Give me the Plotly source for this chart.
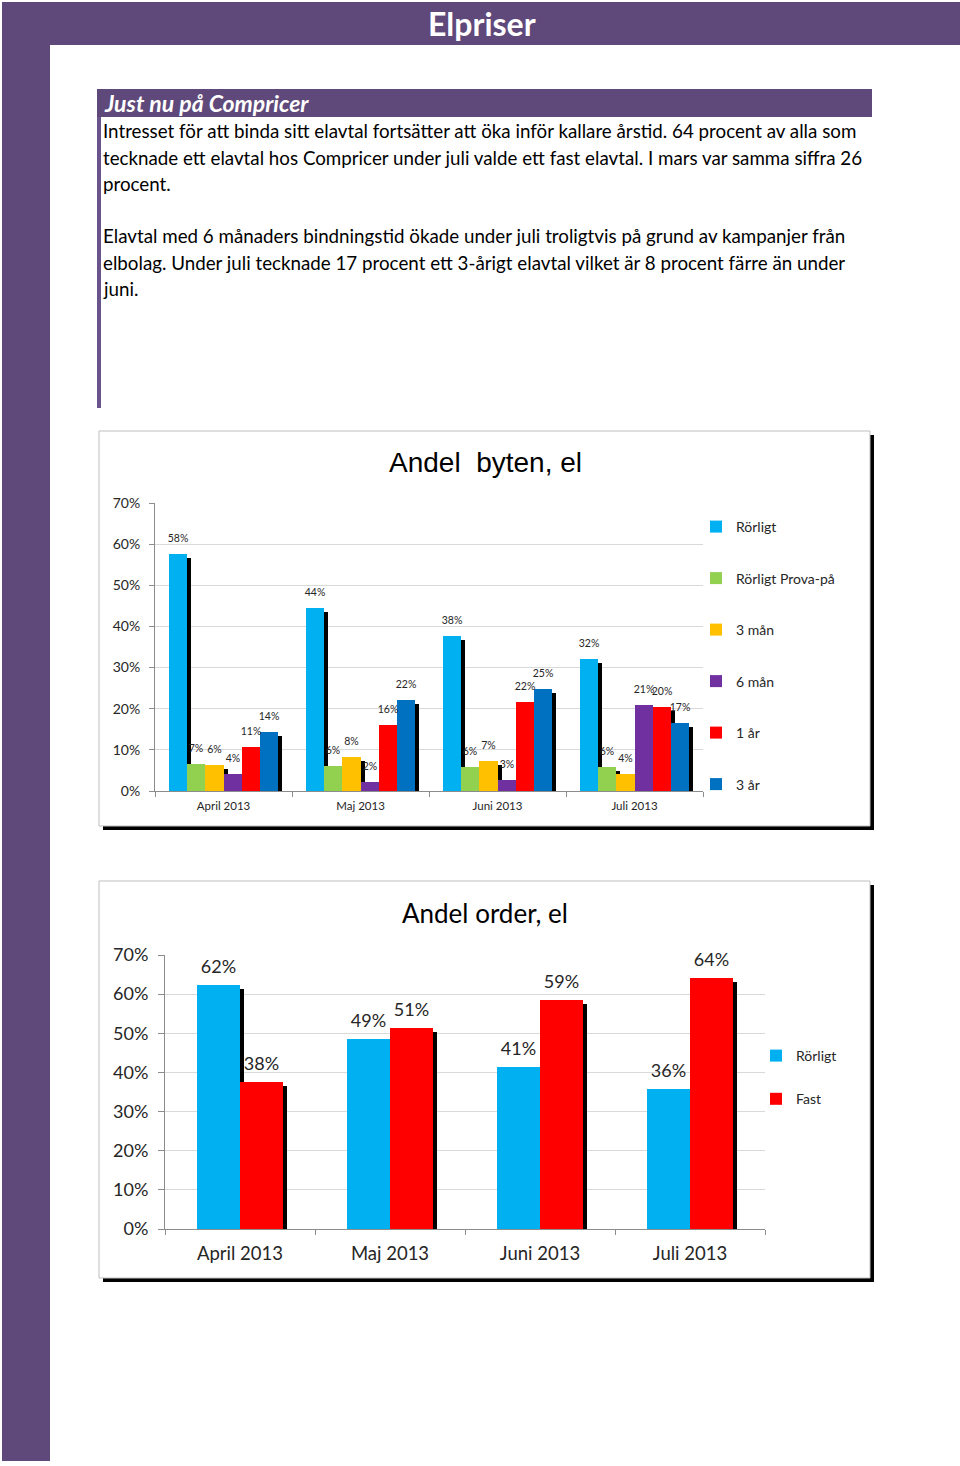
import plotly.graph_objects as go

W, H = 960, 1466


def px(x):
    return x / W


def py(y):
    return 1 - y / H


# ---------------- data ----------------
months = ["April 2013", "Maj 2013", "Juni 2013", "Juli 2013"]

byten_names = ["Rörligt", "Rörligt Prova-på", "3 mån", "6 mån", "1 år", "3 år"]
byten_rorligt = [57.7, 44.4, 37.6, 32.0]
byten_prova = [6.6, 6.1, 5.8, 5.9]
byten_3man = [6.2, 8.3, 7.4, 4.1]
byten_6man = [4.2, 2.2, 2.7, 21.0]
byten_1ar = [10.7, 16.1, 21.6, 20.4]
byten_3ar = [14.3, 22.2, 24.8, 16.6]
byten_values = [byten_rorligt, byten_prova, byten_3man, byten_6man, byten_1ar, byten_3ar]
byten_colors = ["#00B0F0", "#92D050", "#FFC000", "#7030A0", "#FF0000", "#0070C0"]

order_names = ["Rörligt", "Fast"]
order_rorligt = [62.4, 48.6, 41.4, 35.8]
order_fast = [37.6, 51.4, 58.6, 64.2]
order_values = [order_rorligt, order_fast]
order_colors = ["#00B0F0", "#FF0000"]

y_ticks = [0, 10, 20, 30, 40, 50, 60, 70]
y_ticktext = [f"{v}%" for v in y_ticks]

body_lines = [
    "Intresset för att binda sitt elavtal fortsätter att öka inför kallare årstid. 64 procent av alla som",
    "tecknade ett elavtal hos Compricer under juli valde ett fast elavtal. I mars var samma siffra 26",
    "procent.",
    "",
    "Elavtal med 6 månaders bindningstid ökade under juli troligtvis på grund av kampanjer från",
    "elbolag. Under juli tecknade 17 procent ett 3-årigt elavtal vilket är 8 procent färre än under",
    "juni.",
]

PURPLE = "#5F497A"
CAL = "Lato, 'Open Sans', sans-serif"
ARIAL = "'Liberation Sans', Arial, sans-serif"
TXT = "#262626"

fig = go.Figure()


def add_group(names, values, colors, width, start, ax_shadow, ax_main, ax_text,
              legend, lg, fsize):
    # black drop shadows (axes shifted right/down)
    for i, vals in enumerate(values):
        fig.add_trace(go.Bar(
            x=months, y=vals, xaxis=ax_shadow[0], yaxis=ax_shadow[1],
            width=width, offset=start + i * width,
            marker=dict(color="black", line=dict(width=0)),
            showlegend=False, hoverinfo="skip", cliponaxis=False,
        ))
    # coloured bars
    for i, (name, vals, col) in enumerate(zip(names, values, colors)):
        fig.add_trace(go.Bar(
            x=months, y=vals, xaxis=ax_main[0], yaxis=ax_main[1], name=name,
            width=width, offset=start + i * width,
            marker=dict(color=col, line=dict(width=0)),
            cliponaxis=False, legend=legend, legendgroup=lg + str(i),
        ))
    # value labels (axes shifted up a little, transparent bars)
    for i, vals in enumerate(values):
        fig.add_trace(go.Bar(
            x=months, y=vals, xaxis=ax_text[0], yaxis=ax_text[1],
            width=width, offset=start + i * width,
            marker=dict(color="rgba(0,0,0,0)", line=dict(width=0)),
            text=[f"{v:.0f}%" for v in vals], textposition="outside",
            textfont=dict(family=CAL, size=fsize, color=TXT),
            constraintext="none", cliponaxis=False,
            showlegend=False, hoverinfo="skip",
        ))


n1 = len(byten_names)
w1 = 0.80 / n1
add_group(byten_names, byten_values, byten_colors, w1, -0.40,
          ("x", "y"), ("x2", "y2"), ("x5", "y5"), "legend", "b", 10.5)
n2 = len(order_names)
w2 = 0.567 / n2
add_group(order_names, order_values, order_colors, w2, -0.2835,
          ("x3", "y3"), ("x4", "y4"), ("x6", "y6"), "legend2", "o", 18)

# ---------------- axes ----------------
c1_x0, c1_x1, c1_y0, c1_y1 = 155, 703, 791, 503
c2_x0, c2_x1, c2_y0, c2_y1 = 165, 765, 1229, 955
dx1 = 4 / ((c1_x1 - c1_x0) / 4)
dy1 = 4 * 70 / (c1_y0 - c1_y1)
up1 = 7 * 70 / (c1_y0 - c1_y1)
dx2 = 4 / ((c2_x1 - c2_x0) / 4)
dy2 = 4 * 70 / (c2_y0 - c2_y1)
up2 = 5 * 70 / (c2_y0 - c2_y1)

hidden = dict(visible=False, showgrid=False, zeroline=False)
AX = "#8C8C8C"
GRID = "#D9D9D9"

fig.update_layout(
    xaxis=dict(domain=[px(c1_x0), px(c1_x1)], anchor="y", type="category",
               categoryarray=months, range=[-0.5 - dx1, 3.5 - dx1], **hidden),
    yaxis=dict(domain=[py(c1_y0), py(c1_y1)], anchor="x",
               range=[dy1, 70 + dy1], **hidden),
    xaxis2=dict(overlaying="x", anchor="y2", type="category", categoryarray=months,
                range=[-0.5, 3.5], showgrid=False, zeroline=False,
                showline=True, linecolor=AX, linewidth=1,
                ticks="outside", tickson="boundaries", ticklen=5, tickcolor=AX,
                ticklabelstandoff=4,
                tickfont=dict(family=CAL, size=11.5, color=TXT)),
    yaxis2=dict(overlaying="y", anchor="x2", range=[0, 70],
                tickvals=y_ticks, ticktext=y_ticktext,
                showgrid=True, gridcolor=GRID, zeroline=False,
                showline=True, linecolor=AX, ticks="outside", ticklen=5, tickcolor=AX,
                ticklabelstandoff=6,
                tickfont=dict(family=CAL, size=14, color=TXT)),
    xaxis5=dict(overlaying="x", anchor="y5", type="category", categoryarray=months,
                range=[-0.5, 3.5], **hidden),
    yaxis5=dict(overlaying="y", anchor="x5", range=[-up1, 70 - up1], **hidden),
    xaxis3=dict(domain=[px(c2_x0), px(c2_x1)], anchor="y3", type="category",
                categoryarray=months, range=[-0.5 - dx2, 3.5 - dx2], **hidden),
    yaxis3=dict(domain=[py(c2_y0), py(c2_y1)], anchor="x3",
                range=[dy2, 70 + dy2], **hidden),
    xaxis4=dict(overlaying="x3", anchor="y4", type="category", categoryarray=months,
                range=[-0.5, 3.5], showgrid=False, zeroline=False,
                showline=True, linecolor=AX, linewidth=1,
                ticks="outside", tickson="boundaries", ticklen=5, tickcolor=AX,
                ticklabelstandoff=8,
                tickfont=dict(family=CAL, size=18.5, color=TXT)),
    yaxis4=dict(overlaying="y3", anchor="x4", range=[0, 70],
                tickvals=y_ticks, ticktext=y_ticktext,
                showgrid=True, gridcolor=GRID, zeroline=False,
                showline=True, linecolor=AX, ticks="outside", ticklen=6, tickcolor=AX,
                ticklabelstandoff=6,
                tickfont=dict(family=CAL, size=18, color=TXT)),
    xaxis6=dict(overlaying="x3", anchor="y6", type="category", categoryarray=months,
                range=[-0.5, 3.5], **hidden),
    yaxis6=dict(overlaying="y3", anchor="x6", range=[-up2, 70 - up2], **hidden),
)

fig.update_layout(
    width=W, height=H, margin=dict(l=0, r=0, t=0, b=0, pad=0, autoexpand=False),
    paper_bgcolor="white", plot_bgcolor="rgba(0,0,0,0)",
    barmode="overlay", bargap=0,
    legend=dict(x=px(696), y=py(511), xanchor="left", yanchor="top",
                font=dict(family=CAL, size=14, color=TXT),
                tracegroupgap=30.3, bgcolor="rgba(0,0,0,0)", traceorder="grouped"),
    legend2=dict(x=px(756), y=py(1040), xanchor="left", yanchor="top",
                 font=dict(family=CAL, size=14, color=TXT),
                 tracegroupgap=22, bgcolor="rgba(0,0,0,0)", traceorder="grouped"),
    showlegend=True,
)

# ---------------- decorations ----------------
shapes = []


def rect(x0, y0, x1, y1, fill, line=None, lw=0):
    shapes.append(dict(type="rect", xref="paper", yref="paper",
                       x0=px(x0), x1=px(x1), y0=py(y1), y1=py(y0),
                       fillcolor=fill, line=dict(color=line or fill, width=lw),
                       layer="below"))


rect(2, 2, 960, 45, PURPLE)
rect(2, 2, 50, 1461, PURPLE)
rect(97, 89, 872, 117, PURPLE)
rect(97, 117, 101, 408, "#6A548C")
rect(103, 435, 874, 830, "black")
rect(99, 431, 870, 826, "white", "#BFBFBF", 1)
rect(103, 885, 874, 1282, "black")
rect(99, 881, 870, 1278, "white", "#BFBFBF", 1)
fig.update_layout(shapes=shapes)

ann = []
ann.append(dict(text="<b>Elpriser</b>", x=px(482), y=py(24), xref="paper", yref="paper",
                showarrow=False, xanchor="center", yanchor="middle",
                font=dict(family=CAL, size=32, color="white")))
ann.append(dict(text="<b><i>Just nu på Compricer</i></b>", x=px(102), y=py(103),
                xref="paper", yref="paper", showarrow=False, xanchor="left", yanchor="middle",
                font=dict(family=CAL, size=23, color="white")))
for k, line in enumerate(body_lines):
    if not line:
        continue
    ann.append(dict(text=line, x=px(101), y=py(131 + 26.2 * k), xref="paper", yref="paper",
                    showarrow=False, xanchor="left", yanchor="middle",
                    font=dict(family=CAL, size=18.75, color="black")))
ann.append(dict(text="Andel\u00a0 byten, el", x=px(485), y=py(463), xref="paper", yref="paper",
                showarrow=False, xanchor="center", yanchor="middle",
                font=dict(family=ARIAL, size=28, color="black")))
ann.append(dict(text="Andel order, el", x=px(485), y=py(913), xref="paper", yref="paper",
                showarrow=False, xanchor="center", yanchor="middle",
                font=dict(family=CAL, size=26, color="black")))
fig.update_layout(annotations=ann)

post = (
    "document.documentElement.style.margin='0';"
    "document.documentElement.style.overflow='hidden';"
    "document.body.style.margin='0';document.body.style.padding='0';"
    "document.body.style.overflow='hidden';"
    "var gd=document.getElementById('{plot_id}');"
    "gd.style.position='absolute';gd.style.left='0px';gd.style.top='0px';"
)
fig.write_html("out.html", post_script=post, config={"displayModeBar": False})
